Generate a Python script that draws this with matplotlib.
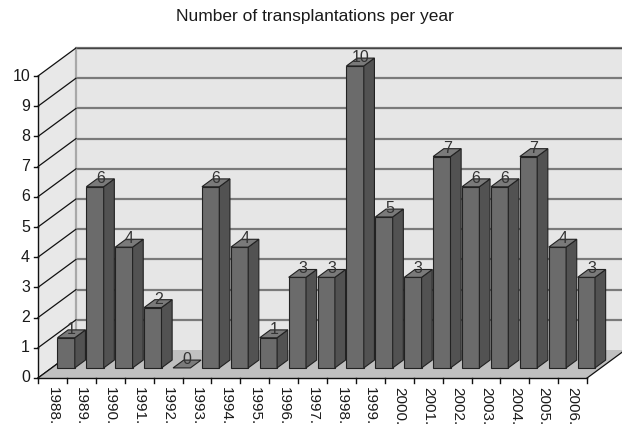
import numpy as np
import matplotlib
matplotlib.use('Agg')
import matplotlib.pyplot as plt
from matplotlib.patches import Polygon

plt.rcParams['font.family'] = ['Liberation Sans', 'DejaVu Sans']

TITLE = 'Number of transplantations per year'
YEARS = ['1988.', '1989.', '1990.', '1991.', '1992.', '1993.', '1994.',
         '1995.', '1996.', '1997.', '1998.', '1999.', '2000.', '2001.',
         '2002.', '2003.', '2004.', '2005.', '2006.']
COUNTS = [1, 6, 4, 2, 0, 6, 4, 1, 3, 3, 10, 5, 3, 7, 6, 6, 7, 4, 3]
Y_TICKS = list(range(0, 11))

# oblique projection: depth z in [0, 1] shifts points right and up
DX = 1.315   # depth shift in category units
DY = 0.927   # depth shift in value units
BAR_W = 0.6
Z0, Z1 = 0.36, 0.64
YMAX = 10


def proj(x, y, z):
    return (x + z * DX, y + z * DY)


def poly(ax, pts, fc, ec='none', lw=0.0, z=1):
    p = Polygon([proj(*q) for q in pts], closed=True, fc=fc, ec=ec, lw=lw,
                zorder=z, joinstyle='miter')
    ax.add_patch(p)


def main():
    fig = plt.figure(figsize=(6.22, 4.26), dpi=100)
    ax = fig.add_axes([0, 0, 1, 1])
    n = len(YEARS)
    px_x = 28.9   # pixels per category
    px_y = 30.2   # pixels per unit
    ax.set_xlim(-38 / px_x, (622 - 38) / px_x)
    ax.set_ylim(-48 / px_y, (426 - 48) / px_y)
    ax.axis('off')

    xr = n + 3  # walls run off the right side
    # back wall
    poly(ax, [(0, 0, 1), (xr, 0, 1), (xr, YMAX, 1), (0, YMAX, 1)], '#e6e6e6', z=1)
    # left wall
    poly(ax, [(0, 0, 0), (0, 0, 1), (0, YMAX, 1), (0, YMAX, 0)], '#e8e8e8', z=1)
    # grid on back wall
    for t in Y_TICKS[1:]:
        a = proj(0, t, 1)
        b = proj(xr, t, 1)
        ax.plot([a[0], b[0]], [a[1], b[1]], color='#7a7a7a', lw=1.6, zorder=2,
                solid_capstyle='butt')
    # back wall top edge
    a = proj(0, YMAX, 1)
    ax.plot([a[0], xr + DX], [a[1], a[1]], color='#444444', lw=1.0, zorder=2)
    # back wall left edge
    a = proj(0, 0, 1)
    b = proj(0, YMAX, 1)
    ax.plot([a[0], b[0]], [a[1], b[1]], color='#a8a8a8', lw=1.6, zorder=2)
    # left wall grid diagonals
    for t in Y_TICKS:
        a = proj(0, t, 0)
        b = proj(0, t, 1)
        ax.plot([a[0], b[0]], [a[1], b[1]], color='#111111', lw=0.9, zorder=3)
    # floor
    poly(ax, [(0, 0, 0), (n, 0, 0), (n, 0, 1), (0, 0, 1)], '#c0c0c0', z=3)
    a = proj(n, 0, 0)
    b = proj(n, 0, 1)
    ax.plot([a[0], b[0]], [a[1], b[1]], color='#111111', lw=0.9, zorder=4)
    a = proj(0, 0, 0)
    b = proj(0, 0, 1)
    ax.plot([a[0], b[0]], [a[1], b[1]], color='#111111', lw=0.9, zorder=4)
    ax.plot([0, n], [0, 0], color='#111111', lw=1.0, zorder=4)

    # front value axis
    ax.plot([0, 0], [0, YMAX], color='#111111', lw=1.0, zorder=4)
    for t in Y_TICKS:
        ax.plot([-4 / px_x, 0], [t, t], color='#111111', lw=1.0, zorder=4)
        ax.text(-8 / px_x, t, str(t), ha='right', va='center', fontsize=11.5,
                color='#1a1a1a')

    # category ticks and labels
    for i in range(n + 1):
        ax.plot([i, i], [0, -5 / px_y], color='#111111', lw=1.0, zorder=4)
    for i, lab in enumerate(YEARS):
        ax.text(i + 0.5, -9 / px_y, lab, rotation=270, ha='center', va='top',
                fontsize=11, color='#1a1a1a')

    # bars
    ec = '#222222'
    for i, v in enumerate(COUNTS):
        x0 = i + 0.5 - BAR_W / 2
        x1 = i + 0.5 + BAR_W / 2
        zb = 10 + i
        if v > 0:
            poly(ax, [(x0, 0, Z0), (x1, 0, Z0), (x1, v, Z0), (x0, v, Z0)],
                 '#6b6b6b', ec, 0.8, zb)
            poly(ax, [(x1, 0, Z0), (x1, 0, Z1), (x1, v, Z1), (x1, v, Z0)],
                 '#525252', ec, 0.8, zb)
        poly(ax, [(x0, v, Z0), (x1, v, Z0), (x1, v, Z1), (x0, v, Z1)],
             '#7a7a7a', ec, 0.8, zb)
        cx, cy = proj(i + 0.5, v, 0.5)
        ax.text(cx, cy + 0.15, str(v), ha='center', va='center', fontsize=11.5,
                color='#333333', zorder=50)

    fig.text(0.506, 1 - 17 / 426, TITLE, ha='center', va='center',
             fontsize=12.5, color='#1a1a1a')
    fig.savefig('out.png', dpi=100)


main()
